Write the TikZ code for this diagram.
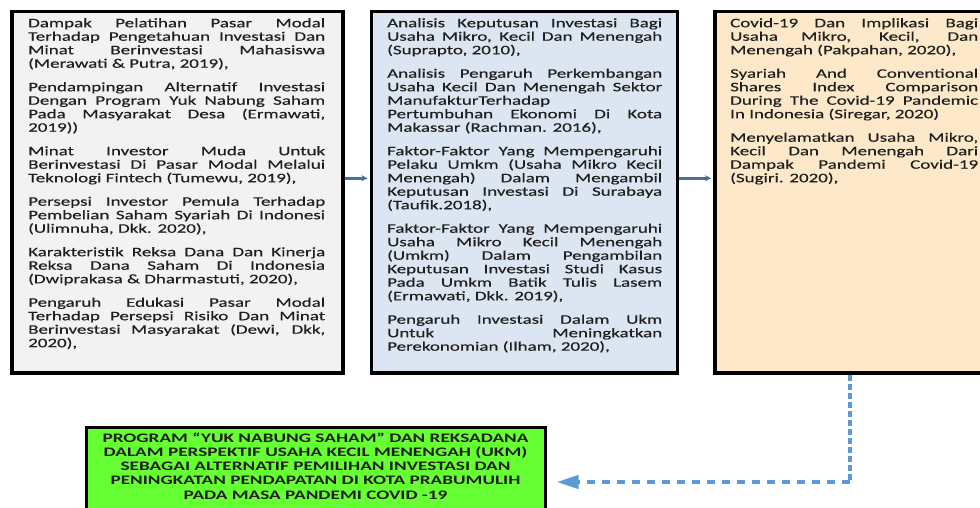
\documentclass[tikz,border=0pt]{standalone}
\usepackage{fontspec}
\newfontfamily\litfont[FakeStretch=1.46,FakeBold=0.4]{Carlito}
\newfontfamily\judulfont[FakeStretch=1.48]{Carlito}
\usetikzlibrary{arrows.meta,positioning}
\definecolor{abu}{HTML}{F2F2F2}
\definecolor{biru}{HTML}{DCE6F2}
\definecolor{krem}{HTML}{FDE9C9}
\definecolor{hijau}{HTML}{66FF33}
\definecolor{panah}{HTML}{4A6E98}
\definecolor{titik}{HTML}{5B9BD5}
\tikzset{kotak/.style={draw=black,line width=3.5pt,anchor=north west,inner sep=0pt},
 isi/.style={anchor=north west,inner sep=0pt,align=justify,text=black!88,font=\litfont\fontsize{13}{13.5}\selectfont,
  execute at begin node={\setlength{\parskip}{10pt}\hyphenpenalty=10000\tolerance=9999}},
 judul/.style={anchor=north,inner sep=0pt,align=center,text=black!88,font=\judulfont\bfseries\fontsize{13}{14.2}\selectfont},
 alur/.style={panah,line width=2.5pt,-{Stealth[length=6pt,width=6pt]},shorten >=2pt},
 putus/.style={titik,line width=4pt}}

\begin{document}
\begin{tikzpicture}[x=1pt,y=-1pt]
\clip (0,0) rectangle (980,508);
% kotak kajian pustaka
\node[kotak,fill=abu,minimum width=331pt,minimum height=361pt] (lit1) at (10,10) {};
\node[kotak,fill=biru,minimum width=306pt,minimum height=361pt] (lit2) at (369.5,10) {};
\node[kotak,fill=krem,minimum width=300pt,minimum height=361pt] (lit3) at (713,10) {};
\node[kotak,fill=hijau,line width=3pt,minimum width=459pt,minimum height=100pt] (hasil) at (84.5,425.5) {};
\node[isi,text width=297pt] (txt1) at (28,18) {Dampak Pelatihan Pasar Modal\linebreak Terhadap Pengetahuan Investasi Dan\linebreak Minat Berinvestasi Mahasiswa\linebreak (Merawati \& Putra, 2019),\par
Pendampingan Alternatif Investasi\linebreak Dengan Program Yuk Nabung Saham\linebreak Pada Masyarakat Desa (Ermawati,\linebreak 2019))\par
Minat Investor Muda Untuk\linebreak Berinvestasi Di Pasar Modal Melalui\linebreak Teknologi Fintech (Tumewu, 2019),\par
Persepsi Investor Pemula Terhadap\linebreak Pembelian Saham Syariah Di Indonesi\linebreak (Ulimnuha, Dkk. 2020),\par
Karakteristik Reksa Dana Dan Kinerja\linebreak Reksa Dana Saham Di Indonesia\linebreak (Dwiprakasa \& Dharmastuti, 2020),\par
Pengaruh Edukasi Pasar Modal\linebreak Terhadap Persepsi Risiko Dan Minat\linebreak Berinvestasi Masyarakat (Dewi, Dkk,\linebreak 2020),};
\node[isi,text width=275pt] (txt2) at (387,18) {Analisis Keputusan Investasi Bagi\linebreak Usaha Mikro, Kecil Dan Menengah\linebreak (Suprapto, 2010),\par
Analisis Pengaruh Perkembangan\linebreak Usaha Kecil Dan Menengah Sektor\linebreak ManufakturTerhadap\newline Pertumbuhan Ekonomi Di Kota\linebreak Makassar (Rachman. 2016),\par
Faktor-Faktor Yang Mempengaruhi\linebreak Pelaku Umkm (Usaha Mikro Kecil\linebreak Menengah) Dalam Mengambil\linebreak Keputusan Investasi Di Surabaya\linebreak (Taufik.2018),\par
Faktor-Faktor Yang Mempengaruhi\linebreak Usaha Mikro Kecil Menengah\linebreak (Umkm) Dalam Pengambilan\linebreak Keputusan Investasi Studi Kasus\linebreak Pada Umkm Batik Tulis Lasem\linebreak (Ermawati, Dkk. 2019),\par
Pengaruh Investasi Dalam Ukm\linebreak Untuk Meningkatkan\linebreak Perekonomian (Ilham, 2020),};
\node[isi,text width=248pt] (txt3) at (730,18) {Covid-19 Dan Implikasi Bagi\linebreak Usaha Mikro, Kecil, Dan\linebreak Menengah (Pakpahan, 2020),\par
Syariah And Conventional\linebreak Shares Index Comparison\linebreak During The Covid-19 Pandemic\linebreak In Indonesia (Siregar, 2020)\par
Menyelamatkan Usaha Mikro,\linebreak Kecil Dan Menengah Dari\linebreak Dampak Pandemi Covid-19\linebreak (Sugiri. 2020),};
\node[judul] (tjudul) at ([yshift=-7pt]hasil.north) {PROGRAM “YUK NABUNG SAHAM” DAN REKSADANA\\DALAM PERSPEKTIF USAHA KECIL MENENGAH (UKM)\\SEBAGAI ALTERNATIF PEMILIHAN INVESTASI DAN\\PENINGKATAN PENDAPATAN DI KOTA PRABUMULIH\\PADA MASA PANDEMI COVID -19};
% alur
\draw[alur] ([yshift=14pt]lit1.east) -- ([yshift=14pt]lit2.west);
\draw[alur] ([yshift=14pt]lit2.east) -- ([yshift=14pt]lit3.west);
\coordinate (belok) at (850,482);
\draw[putus,dash pattern=on 6pt off 3pt] (lit3.south -| belok) -- (belok);
\draw[putus,dash pattern=on 8pt off 7pt,-{Triangle[length=22pt,width=13pt]}] (belok) -- ([xshift=10pt]hasil.east |- belok);
\end{tikzpicture}
\end{document}
